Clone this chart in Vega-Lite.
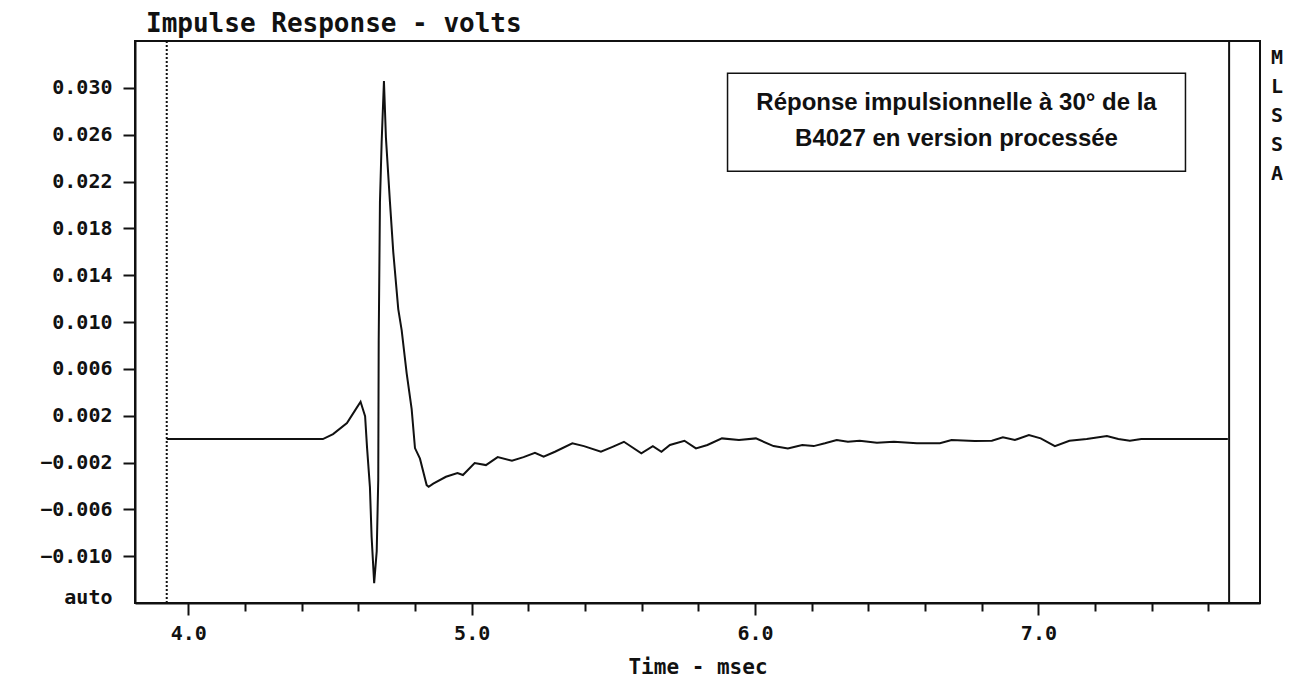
{
  "$schema": "https://vega.github.io/schema/vega-lite/v6.json",
  "autosize": {"type": "none"},
  "padding": {"left": 135, "top": 41, "right": 40, "bottom": 76},
  "width": 1125,
  "height": 562,
  "background": "white",
  "title": {
    "text": "Impulse Response - volts",
    "anchor": "start",
    "frame": "group",
    "dx": 11,
    "offset": 3,
    "font": "DejaVu Sans Mono",
    "fontWeight": "bold",
    "fontSize": 26,
    "color": "#111111"
  },
  "config": {
    "view": {"stroke": "#111111", "strokeWidth": 2},
    "axis": {
      "domainColor": "#111111",
      "domainWidth": 2,
      "tickColor": "#111111",
      "tickWidth": 2,
      "grid": false,
      "labelColor": "#111111",
      "titleColor": "#111111",
      "labelFont": "DejaVu Sans Mono",
      "labelFontWeight": "bold",
      "titleFont": "DejaVu Sans Mono",
      "titleFontWeight": "bold",
      "labelFlush": false,
      "labelOverlap": false
    }
  },
  "layer": [
    {
      "data": {"values": [{"t": 3.924}]},
      "mark": {"type": "rule", "color": "#111111", "strokeWidth": 2, "strokeDash": [2, 2]},
      "encoding": {"x": {"field": "t", "type": "quantitative"}}
    },
    {
      "data": {"values": [{"t": 7.673}]},
      "mark": {"type": "rule", "color": "#111111", "strokeWidth": 2},
      "encoding": {"x": {"field": "t", "type": "quantitative"}}
    },
    {
      "data": {
        "values": [
          {"t": 3.924, "v": 0},
          {"t": 4.475, "v": 0},
          {"t": 4.511, "v": 0.00043},
          {"t": 4.56, "v": 0.00137},
          {"t": 4.588, "v": 0.00243},
          {"t": 4.608, "v": 0.00319},
          {"t": 4.624, "v": 0.00196},
          {"t": 4.631, "v": -0.00077},
          {"t": 4.641, "v": -0.0041},
          {"t": 4.647, "v": -0.00837},
          {"t": 4.656, "v": -0.0123},
          {"t": 4.665, "v": -0.00957},
          {"t": 4.6704, "v": -0.0035},
          {"t": 4.672, "v": 0.00837},
          {"t": 4.6764, "v": 0.02024},
          {"t": 4.6824, "v": 0.02537},
          {"t": 4.6905, "v": 0.03058},
          {"t": 4.6976, "v": 0.0257},
          {"t": 4.7117, "v": 0.02024},
          {"t": 4.7234, "v": 0.01597},
          {"t": 4.741, "v": 0.0111},
          {"t": 4.753, "v": 0.00931},
          {"t": 4.7706, "v": 0.00564},
          {"t": 4.7883, "v": 0.00256},
          {"t": 4.8, "v": -0.00077},
          {"t": 4.8176, "v": -0.00167},
          {"t": 4.8412, "v": -0.00393},
          {"t": 4.8483, "v": -0.00407},
          {"t": 4.8645, "v": -0.0038},
          {"t": 4.9093, "v": -0.00322},
          {"t": 4.95, "v": -0.0029},
          {"t": 4.9693, "v": -0.00307},
          {"t": 5.0106, "v": -0.00205},
          {"t": 5.0505, "v": -0.00222},
          {"t": 5.0918, "v": -0.00154},
          {"t": 5.1422, "v": -0.00185},
          {"t": 5.1831, "v": -0.00154},
          {"t": 5.2234, "v": -0.00117},
          {"t": 5.254, "v": -0.00151},
          {"t": 5.294, "v": -0.00108},
          {"t": 5.3553, "v": -0.00036},
          {"t": 5.3963, "v": -0.0006},
          {"t": 5.4562, "v": -0.00108},
          {"t": 5.4972, "v": -0.00066},
          {"t": 5.5374, "v": -0.00023},
          {"t": 5.5988, "v": -0.00122},
          {"t": 5.6394, "v": -0.0006},
          {"t": 5.6697, "v": -0.00108},
          {"t": 5.6997, "v": -0.0005},
          {"t": 5.7509, "v": -0.00014},
          {"t": 5.7915, "v": -0.0008},
          {"t": 5.832, "v": -0.0005},
          {"t": 5.8832, "v": 0.00006},
          {"t": 5.9432, "v": -0.00008},
          {"t": 6.0031, "v": 0.00006},
          {"t": 6.0653, "v": -0.0006},
          {"t": 6.116, "v": -0.0008},
          {"t": 6.1665, "v": -0.0005},
          {"t": 6.2071, "v": -0.0006},
          {"t": 6.2467, "v": -0.00036},
          {"t": 6.2883, "v": -0.00008},
          {"t": 6.3278, "v": -0.00023},
          {"t": 6.3694, "v": -0.00014},
          {"t": 6.4301, "v": -0.00031},
          {"t": 6.4901, "v": -0.00023},
          {"t": 6.5713, "v": -0.00036},
          {"t": 6.6524, "v": -0.00036},
          {"t": 6.6937, "v": -0.00008},
          {"t": 6.7749, "v": -0.00017},
          {"t": 6.8359, "v": -0.00014},
          {"t": 6.8747, "v": 0.00015},
          {"t": 6.9171, "v": -0.00008},
          {"t": 6.9665, "v": 0.00035},
          {"t": 7.0081, "v": 0.00006},
          {"t": 7.0582, "v": -0.0006},
          {"t": 7.1094, "v": -0.00014},
          {"t": 7.1705, "v": 0},
          {"t": 7.2418, "v": 0.00026},
          {"t": 7.2819, "v": 0},
          {"t": 7.3228, "v": -0.00014},
          {"t": 7.3631, "v": 0},
          {"t": 7.6686, "v": 0}
        ]
      },
      "mark": {"type": "line", "color": "#111111", "strokeWidth": 2},
      "encoding": {
        "x": {
          "field": "t",
          "type": "quantitative",
          "scale": {"domain": [3.812, 7.782], "nice": false, "zero": false},
          "axis": {
            "title": "Time - msec",
            "titleFontSize": 21,
            "titlePadding": 13,
            "values": [4.0, 4.2, 4.4, 4.6, 4.8, 5.0, 5.2, 5.4, 5.6, 5.8, 6.0, 6.2, 6.4, 6.6, 6.8, 7.0, 7.2, 7.4, 7.6],
            "labelExpr": "abs(datum.value - round(datum.value)) < 0.01 ? format(datum.value, '.1f') : ''",
            "tickSize": {"condition": {"test": "abs(datum.value - round(datum.value)) < 0.01", "value": 12}, "value": 8},
            "labelFontSize": 20,
            "labelPadding": 8
          }
        },
        "y": {
          "field": "v",
          "type": "quantitative",
          "scale": {"domain": [-0.014, 0.034], "nice": false, "zero": false},
          "axis": {
            "title": null,
            "values": [-0.014, -0.01, -0.006, -0.002, 0.002, 0.006, 0.01, 0.014, 0.018, 0.022, 0.026, 0.03],
            "labelExpr": "datum.value < -0.0135 ? 'auto' : format(datum.value, '.3f')",
            "tickSize": 12,
            "tickOpacity": {"condition": {"test": "datum.value < -0.0135", "value": 0}, "value": 1},
            "labelOffset": {"condition": {"test": "datum.value < -0.0135", "value": -6}, "value": 0},
            "labelFontSize": 20,
            "labelPadding": 11
          }
        }
      }
    },
    {
      "data": {"values": [{"t": 5.903, "t2": 7.519, "v": 0.03124, "v2": 0.02287}]},
      "mark": {"type": "rect", "fill": "white", "stroke": "#111111", "strokeWidth": 1.5},
      "encoding": {
        "x": {"field": "t", "type": "quantitative"},
        "x2": {"field": "t2"},
        "y": {"field": "v", "type": "quantitative"},
        "y2": {"field": "v2"}
      }
    },
    {
      "data": {"values": [{"t": 6.711, "v": 0.0287, "label": "Réponse impulsionnelle à 30° de la\nB4027 en version processée"}]},
      "mark": {"type": "text", "font": "Liberation Sans", "fontWeight": "bold", "fontSize": 24, "lineBreak": "\n", "lineHeight": 36, "align": "center", "baseline": "middle", "color": "#111111"},
      "encoding": {
        "x": {"field": "t", "type": "quantitative"},
        "y": {"field": "v", "type": "quantitative"},
        "text": {"field": "label"}
      }
    },
    {
      "data": {"values": [{"t": 7.842, "v": 0.03255, "label": "M\nL\nS\nS\nA"}]},
      "mark": {"type": "text", "font": "DejaVu Sans Mono", "fontWeight": "bold", "fontSize": 20, "lineBreak": "\n", "lineHeight": 29, "align": "center", "baseline": "middle", "color": "#111111"},
      "encoding": {
        "x": {"field": "t", "type": "quantitative"},
        "y": {"field": "v", "type": "quantitative"},
        "text": {"field": "label"}
      }
    }
  ]
}
